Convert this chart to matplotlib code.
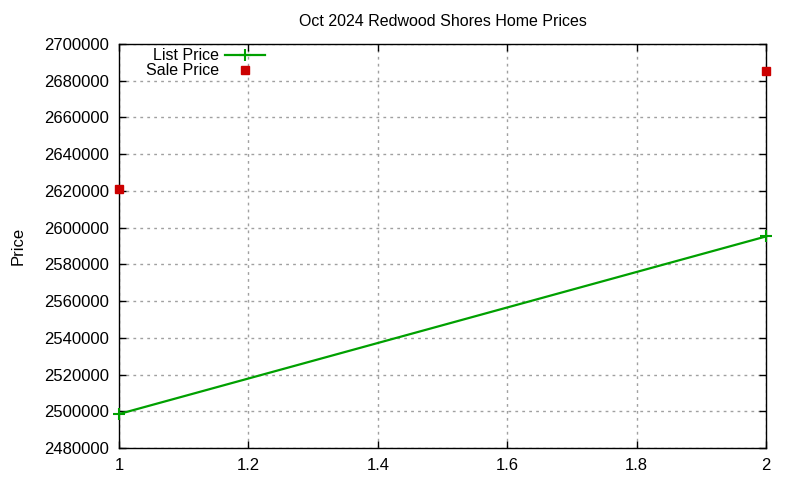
import matplotlib
matplotlib.use("Agg")
import matplotlib.pyplot as plt

plt.rcParams['font.family'] = ['Liberation Sans', 'DejaVu Sans']

title = "Oct 2024 Redwood Shores Home Prices"
list_x = [1, 2]
list_price = [2498500, 2595200]
sale_x = [1, 2]
sale_price = [2621200, 2685200]
yticks = list(range(2480000, 2700001, 20000))
xticks = [1, 1.2, 1.4, 1.6, 1.8, 2]

fig = plt.figure(figsize=(8, 4.8), dpi=100)
ax = fig.add_axes([119/800, 1-448/480, (766-119)/800, (448-44)/480])

ax.plot(list_x, list_price, color='#00a000', lw=1.6, marker='+', ms=9, mew=1.5,
        label='List Price', clip_on=False, zorder=3)
ax.plot(sale_x, sale_price, color='#cc0000', ls='none', marker='s', ms=6,
        label='Sale Price', clip_on=False, zorder=3)

ax.set_xlim(1, 2)
ax.set_ylim(2480000, 2700000)
ax.set_xticks(xticks)
ax.set_xticklabels(['1', '1.2', '1.4', '1.6', '1.8', '2'])
ax.set_yticks(yticks)
ax.set_yticklabels([str(v) for v in yticks])
ax.tick_params(direction='in', top=True, right=True, labelsize=12, length=5, width=1, pad=7)
ax.grid(True, color='#a0a0a0', ls=(0, (2, 3)), lw=1)
for s in ax.spines.values():
    s.set_linewidth(1)

ax.set_title(title, fontsize=11.5, pad=13)
ax.set_ylabel('Price', fontsize=12)
ax.yaxis.set_label_coords(-0.145, 0.5)

leg = ax.legend(loc='upper left', bbox_to_anchor=(0.025, 1.017), frameon=False,
                markerfirst=False, fontsize=11.5, handlelength=2.5,
                labelspacing=0.0, borderpad=0.2, handletextpad=0.35)
for t in leg.get_texts():
    t.set_ha('right')

fig.savefig('out.png', dpi=100)
